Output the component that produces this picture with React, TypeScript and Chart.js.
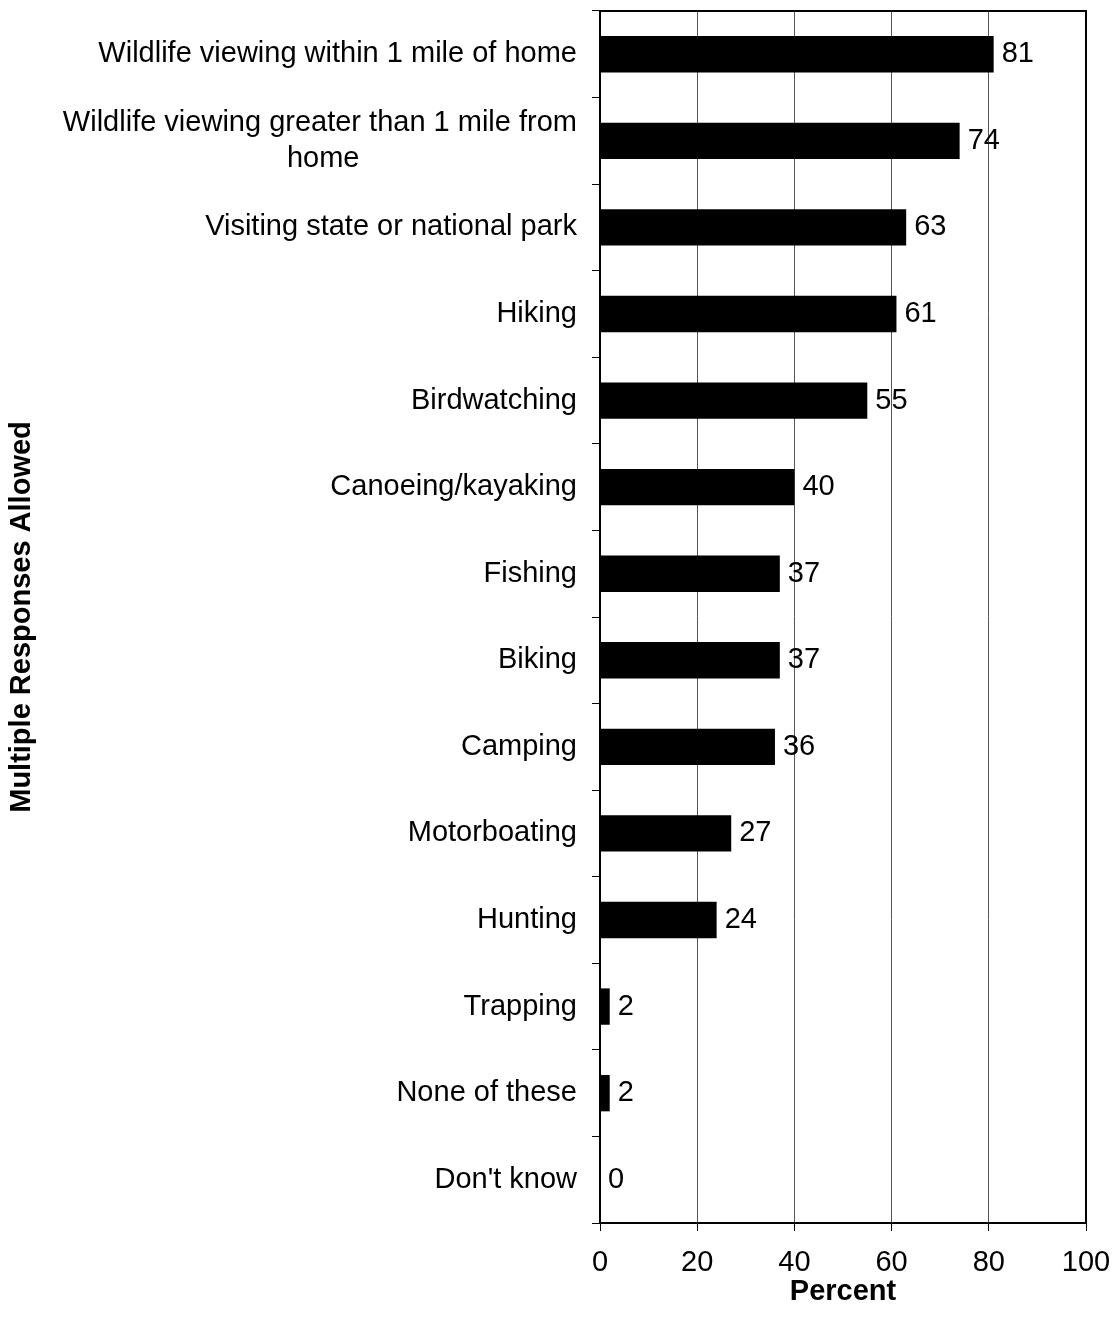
import React, { useEffect, useRef } from 'react';
import { Chart, registerables } from 'chart.js';

Chart.register(...registerables);

const categories: (string | string[])[] = [
  'Wildlife viewing within 1 mile of home',
  ['Wildlife viewing greater than 1 mile from', 'home'],
  'Visiting state or national park',
  'Hiking',
  'Birdwatching',
  'Canoeing/kayaking',
  'Fishing',
  'Biking',
  'Camping',
  'Motorboating',
  'Hunting',
  'Trapping',
  'None of these',
  "Don't know",
];

const percentValues = [81, 74, 63, 61, 55, 40, 37, 37, 36, 27, 24, 2, 2, 0];

const xMin = 0;
const xMax = 100;
const xStep = 20;
const xAxisTitle = 'Percent';
const yAxisTitle = 'Multiple Responses Allowed';

const FONT = "'Liberation Sans', Arial, sans-serif";
const FONT_SIZE = 29;

export default function App() {
  const ref = useRef<HTMLCanvasElement>(null);

  useEffect(() => {
    const canvas = ref.current;
    if (!canvas) return;

    const measure = document.createElement('canvas').getContext('2d')!;
    measure.font = `${FONT_SIZE}px ${FONT}`;
    const centerLines = (lines: string[]) => {
      const widths = lines.map((l) => measure.measureText(l).width);
      const maxW = Math.max(...widths);
      const spaceW = measure.measureText(' ').width;
      return lines.map((l, i) => l + ' '.repeat(Math.round((maxW - widths[i]) / 2 / spaceW)));
    };

    const zeroPad = (s: any) => {
      s.paddingTop = 0;
      s.paddingBottom = 0;
      s.paddingLeft = 0;
      s.paddingRight = 0;
    };

    const valueLabels = {
      id: 'valueLabels',
      afterDatasetsDraw(chart: any) {
        const ctx = chart.ctx;
        const meta = chart.getDatasetMeta(0);
        ctx.save();
        ctx.font = `${FONT_SIZE}px ${FONT}`;
        ctx.fillStyle = '#000';
        ctx.textAlign = 'left';
        ctx.textBaseline = 'middle';
        meta.data.forEach((el: any, i: number) => {
          ctx.fillText(String(percentValues[i]), el.x + 8, el.y);
        });
        ctx.restore();
      },
    };

    const frame = {
      id: 'frame',
      afterDraw(chart: any) {
        const { ctx, chartArea } = chart;
        ctx.save();
        ctx.strokeStyle = '#000';
        ctx.lineWidth = 2;
        ctx.strokeRect(chartArea.left, chartArea.top, chartArea.right - chartArea.left, chartArea.bottom - chartArea.top);
        ctx.restore();
      },
    };

    const chart = new Chart(canvas, {
      type: 'bar',
      data: {
        labels: categories,
        datasets: [
          {
            data: percentValues,
            backgroundColor: '#000',
            borderWidth: 0,
            barPercentage: 0.42,
            categoryPercentage: 1,
          },
        ],
      },
      options: {
        indexAxis: 'y',
        responsive: false,
        maintainAspectRatio: false,
        animation: false,
        layout: { padding: { top: 11, right: 29, left: 0, bottom: 0 } },
        plugins: {
          legend: { display: false },
          tooltip: { enabled: false },
        },
        scales: {
          x: {
            type: 'linear',
            position: 'bottom',
            min: xMin,
            max: xMax,
            ticks: {
              stepSize: xStep,
              color: '#000',
              padding: 15,
              font: { family: FONT, size: FONT_SIZE },
            },
            grid: {
              color: '#555',
              lineWidth: 1,
              tickColor: '#000',
              tickLength: 8,
            },
            border: { display: true, color: '#000', width: 2 },
            title: {
              display: true,
              text: xAxisTitle,
              color: '#000',
              font: { family: FONT, size: FONT_SIZE, weight: 'bold' },
              padding: { top: 0, bottom: 25 },
            },
            afterFit: (s: any) => {
              s.height = 111;
              zeroPad(s);
            },
          },
          y: {
            type: 'category',
            ticks: {
              color: '#000',
              padding: 15,
              autoSkip: false,
              font: { family: FONT, size: FONT_SIZE, lineHeight: 1.25 },
              callback: (_v: any, index: number) => {
                const lbl = categories[index];
                return Array.isArray(lbl) ? centerLines(lbl) : lbl;
              },
            },
            grid: {
              drawOnChartArea: false,
              color: '#000',
              tickLength: 8,
              offset: true,
            },
            border: { display: true, color: '#000', width: 2 },
            title: {
              display: true,
              text: yAxisTitle,
              color: '#000',
              font: { family: FONT, size: FONT_SIZE, weight: 'bold' },
              padding: { top: 5, bottom: 0 },
            },
            afterFit: (s: any) => {
              s.width = 600;
              zeroPad(s);
            },
          },
        },
      },
      plugins: [valueLabels, frame],
    } as any);

    return () => chart.destroy();
  }, []);

  return (
    <div style={{ position: 'absolute', left: 0, top: 0, width: 1115, height: 1334, background: '#fff' }}>
      <canvas ref={ref} width={1115} height={1334} style={{ width: 1115, height: 1334, display: 'block' }} />
    </div>
  );
}
